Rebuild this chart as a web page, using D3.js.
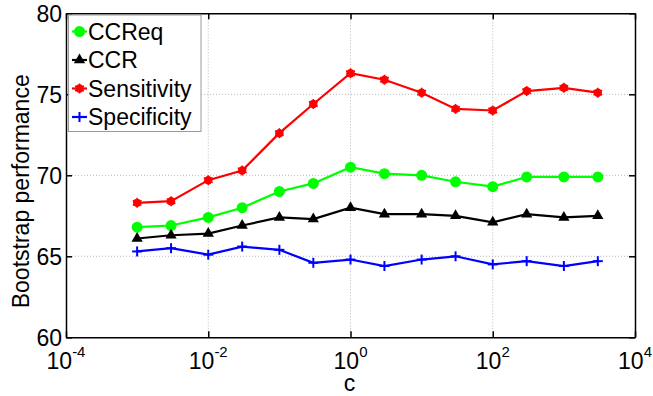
<!DOCTYPE html>
<html><head><meta charset="utf-8">
<script src="https://cdn.jsdelivr.net/npm/d3@7"></script>
<style>body{margin:0;background:#fff}svg{display:block}</style>
</head><body><svg id="c" width="653" height="396"></svg>
<script>
const cValues = [1e-3, 3e-3, 1e-2, 3e-2, 1e-1, 3e-1, 1, 3, 10, 30, 100, 300, 1000, 3000];
const ccreq =       [66.8, 66.9, 67.4, 68.0, 69.0, 69.5, 70.5, 70.1, 70.0, 69.6, 69.3, 69.9, 69.9, 69.9];
const ccr =         [66.1, 66.3, 66.4, 66.9, 67.4, 67.3, 68.0, 67.6, 67.6, 67.5, 67.1, 67.6, 67.4, 67.5];
const sensitivity = [68.3, 68.4, 69.7, 70.3, 72.6, 74.4, 76.3, 75.9, 75.1, 74.1, 74.0, 75.2, 75.4, 75.1];
const specificity = [65.3, 65.5, 65.1, 65.6, 65.4, 64.6, 64.8, 64.4, 64.8, 65.0, 64.5, 64.7, 64.4, 64.7];
const xTickExps = [-4, -2, 0, 2, 4];
const yTicks = [60, 65, 70, 75, 80];
const seriesNames = ["CCReq", "CCR", "Sensitivity", "Specificity"];
const seriesColors = ["#00ff00", "#000000", "#ff0000", "#0000ff"];

const svg = d3.select("#c");
const L = 66, R = 635, T = 13.3, B = 337.3;
const x = d3.scaleLog().domain([1e-4, 1e4]).range([L, R]);
const y = d3.scaleLinear().domain([60, 80]).range([B, T]);
const font = "'Liberation Sans', Arial, sans-serif";

// grid
const g = svg.append("g");
xTickExps.slice(1, -1).forEach(e => {
  g.append("line").attr("x1", x(Math.pow(10, e))).attr("x2", x(Math.pow(10, e)))
    .attr("y1", T).attr("y2", B).attr("stroke", "#b8b8b8").attr("stroke-width", 1)
    .attr("stroke-dasharray", "1,2");
});
yTicks.slice(1, -1).forEach(v => {
  g.append("line").attr("x1", L).attr("x2", R).attr("y1", y(v)).attr("y2", y(v))
    .attr("stroke", "#b8b8b8").attr("stroke-width", 1).attr("stroke-dasharray", "1,2");
});

// axes box with inward ticks
const xb = d3.axisBottom(x).tickValues(xTickExps.map(e => Math.pow(10, e))).tickSizeInner(-6).tickSizeOuter(0).tickFormat("");
const xt = d3.axisTop(x).tickValues(xTickExps.map(e => Math.pow(10, e))).tickSizeInner(-6).tickSizeOuter(0).tickFormat("");
const yl = d3.axisLeft(y).tickValues(yTicks).tickSizeInner(-6).tickSizeOuter(0).tickFormat("");
const yr = d3.axisRight(y).tickValues(yTicks).tickSizeInner(-6).tickSizeOuter(0).tickFormat("");
[[xb, `translate(0,${B})`], [xt, `translate(0,${T})`], [yl, `translate(${L},0)`], [yr, `translate(${R},0)`]].forEach(([a, t]) => {
  const ag = svg.append("g").attr("transform", t).call(a);
  ag.selectAll("path,line").attr("stroke", "#000").attr("stroke-width", 1.5);
});

// y tick labels
yTicks.forEach(v => {
  svg.append("text").attr("x", L - 4).attr("y", y(v) + 9).attr("text-anchor", "end")
    .attr("font-family", font).attr("font-size", 23).text(v);
});
// x tick labels
xTickExps.forEach(e => {
  const t = svg.append("text").attr("x", x(Math.pow(10, e))).attr("y", 369).attr("text-anchor", "middle")
    .attr("font-family", font).attr("font-size", 23);
  t.append("tspan").text("10");
  t.append("tspan").attr("font-size", 15).attr("dy", -12).text(String(e));
});
// axis labels
svg.append("text").attr("x", (L + R) / 2 - 1).attr("y", 391).attr("text-anchor", "middle")
  .attr("font-family", font).attr("font-size", 23).text("c");
svg.append("text").attr("transform", `translate(29,${(T + B) / 2 + 16}) rotate(-90)`).attr("text-anchor", "middle")
  .attr("font-family", font).attr("font-size", 23).text("Bootstrap performance");

const data = [ccreq, ccr, sensitivity, specificity];
const line = d3.line().x((d, i) => x(cValues[i])).y(d => y(d));

function marker(sel, k, cx, cy) {
  const col = seriesColors[k];
  if (k === 0) {
    sel.append("circle").attr("cx", cx).attr("cy", cy).attr("r", 5.5).attr("fill", col);
  } else if (k === 1) {
    sel.append("path").attr("d", d3.symbol(d3.symbolTriangle, 55)()).attr("transform", `translate(${cx},${cy})`).attr("fill", col);
  } else if (k === 2) {
    sel.append("circle").attr("cx", cx).attr("cy", cy).attr("r", 4.2).attr("fill", col);
    const s = 5;
    [[0, s], [s * 0.87, s * 0.5], [s * 0.87, -s * 0.5]].forEach(([dx, dy]) => {
      sel.append("line").attr("x1", cx - dx).attr("x2", cx + dx).attr("y1", cy - dy).attr("y2", cy + dy)
        .attr("stroke", col).attr("stroke-width", 1.5);
    });
  } else {
    const s = 5;
    sel.append("line").attr("x1", cx - s).attr("x2", cx + s).attr("y1", cy).attr("y2", cy).attr("stroke", col).attr("stroke-width", 2);
    sel.append("line").attr("x1", cx).attr("x2", cx).attr("y1", cy - s).attr("y2", cy + s).attr("stroke", col).attr("stroke-width", 2);
  }
}

data.forEach((arr, k) => {
  const sg = svg.append("g");
  sg.append("path").datum(arr).attr("d", line).attr("fill", "none").attr("stroke", seriesColors[k]).attr("stroke-width", 2.2);
  arr.forEach((v, i) => marker(sg, k, x(cValues[i]), y(v)));
});

// legend
const lg = svg.append("g");
lg.append("rect").attr("x", 68.5).attr("y", 15).attr("width", 132.5).attr("height", 116.5)
  .attr("fill", "#fff").attr("stroke", "#999").attr("stroke-width", 1);
seriesNames.forEach((n, k) => {
  const cy = 31.5 + k * 28.5;
  lg.append("line").attr("x1", 72).attr("x2", 87).attr("y1", cy).attr("y2", cy).attr("stroke", seriesColors[k]).attr("stroke-width", 2.2);
  marker(lg, k, 79.5, cy);
  lg.append("text").attr("x", 88).attr("y", cy + 8).attr("font-family", font).attr("font-size", 23).text(n);
});
</script></body></html>
